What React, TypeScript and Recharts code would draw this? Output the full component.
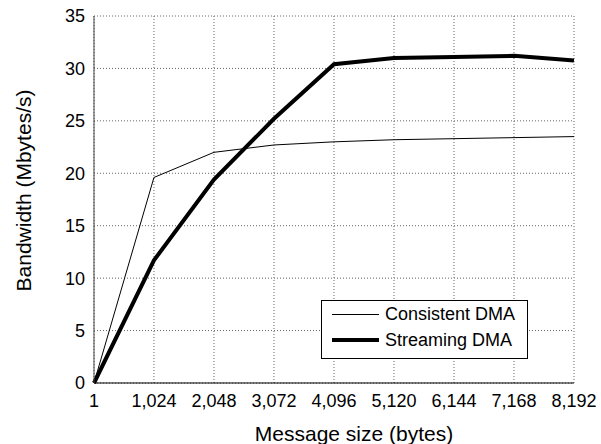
import { LineChart, Line, XAxis, YAxis, CartesianGrid, Legend, Label } from 'recharts'

const messageSizes = [1, 1024, 2048, 3072, 4096, 5120, 6144, 7168, 8192]
const consistentDma = [0, 19.6, 22.0, 22.7, 23.0, 23.2, 23.3, 23.4, 23.5]
const streamingDma = [0, 11.7, 19.4, 25.2, 30.4, 31.0, 31.1, 31.2, 30.75]
const yTicks = [0, 5, 10, 15, 20, 25, 30, 35]

const data = messageSizes.map((size, i) => ({
  size,
  consistent: consistentDma[i],
  streaming: streamingDma[i],
}))

const FONT = '"Liberation Sans", Arial, sans-serif'

const LegendBox = ({ payload }: any) => (
  <div
    style={{
      border: '1px solid #000',
      background: '#fff',
      width: 207,
      height: 59,
      boxSizing: 'border-box',
      padding: '0 0 0 10px',
      fontFamily: FONT,
      fontSize: 18,
      color: '#000',
    }}
  >
    {(payload || []).map((entry: any) => (
      <div key={entry.value} style={{ display: 'flex', alignItems: 'center', height: 26 }}>
        <div
          style={{
            width: 47,
            height: entry.dataKey === 'streaming' ? 4 : 1,
            background: '#000',
            marginRight: 6,
          }}
        />
        <span>{entry.value}</span>
      </div>
    ))}
  </div>
)

// axis titles sit a bit off-centre in the original
const XTitle = ({ viewBox }: any) => (
  <text
    x={viewBox.x + viewBox.width / 2 + 20}
    y={441}
    textAnchor="middle"
    fill="#000"
    fontSize={21}
    fontFamily={FONT}
  >
    Message size (bytes)
  </text>
)

const YTitle = ({ viewBox }: any) => {
  const cx = 31
  const cy = viewBox.y + viewBox.height / 2 - 9
  return (
    <text
      x={cx}
      y={cy}
      transform={`rotate(-90 ${cx} ${cy})`}
      textAnchor="middle"
      fill="#000"
      fontSize={21}
      fontFamily={FONT}
    >
      Bandwidth (Mbytes/s)
    </text>
  )
}

export default function App() {
  return (
    <div style={{ position: 'absolute', left: 0, top: 0, width: 601, height: 444, background: '#fff' }}>
      <LineChart
        width={601}
        height={444}
        data={data}
        margin={{ top: 16, right: 27, bottom: 21, left: 0 }}
      >
        <CartesianGrid stroke="#666" strokeDasharray="1 2" />
        <XAxis
          dataKey="size"
          type="number"
          domain={[1, 8192]}
          ticks={messageSizes}
          tickFormatter={(v) => v.toLocaleString('en-US')}
          interval={0}
          height={40}
          tickLine={false}
          tickMargin={5}
          axisLine={{ stroke: '#000' }}
          tick={{ fill: '#000', fontSize: 18, fontFamily: FONT }}
        >
          <Label content={<XTitle />} />
        </XAxis>
        <YAxis
          domain={[0, 35]}
          ticks={yTicks}
          interval={0}
          width={94}
          tickLine={false}
          tickMargin={3}
          axisLine={{ stroke: '#444' }}
          tick={{ fill: '#000', fontSize: 18, fontFamily: FONT }}
        >
          <Label content={<YTitle />} />
        </YAxis>
        <Legend
          content={<LegendBox />}
          layout="vertical"
          align="center"
          verticalAlign="middle"
          wrapperStyle={{ position: 'absolute', left: 321, top: 300, width: 207 }}
        />
        <Line
          type="linear"
          dataKey="consistent"
          name="Consistent DMA"
          stroke="#000"
          strokeWidth={1}
          dot={false}
          isAnimationActive={false}
        />
        <Line
          type="linear"
          dataKey="streaming"
          name="Streaming DMA"
          stroke="#000"
          strokeWidth={4}
          dot={false}
          isAnimationActive={false}
        />
      </LineChart>
    </div>
  )
}
